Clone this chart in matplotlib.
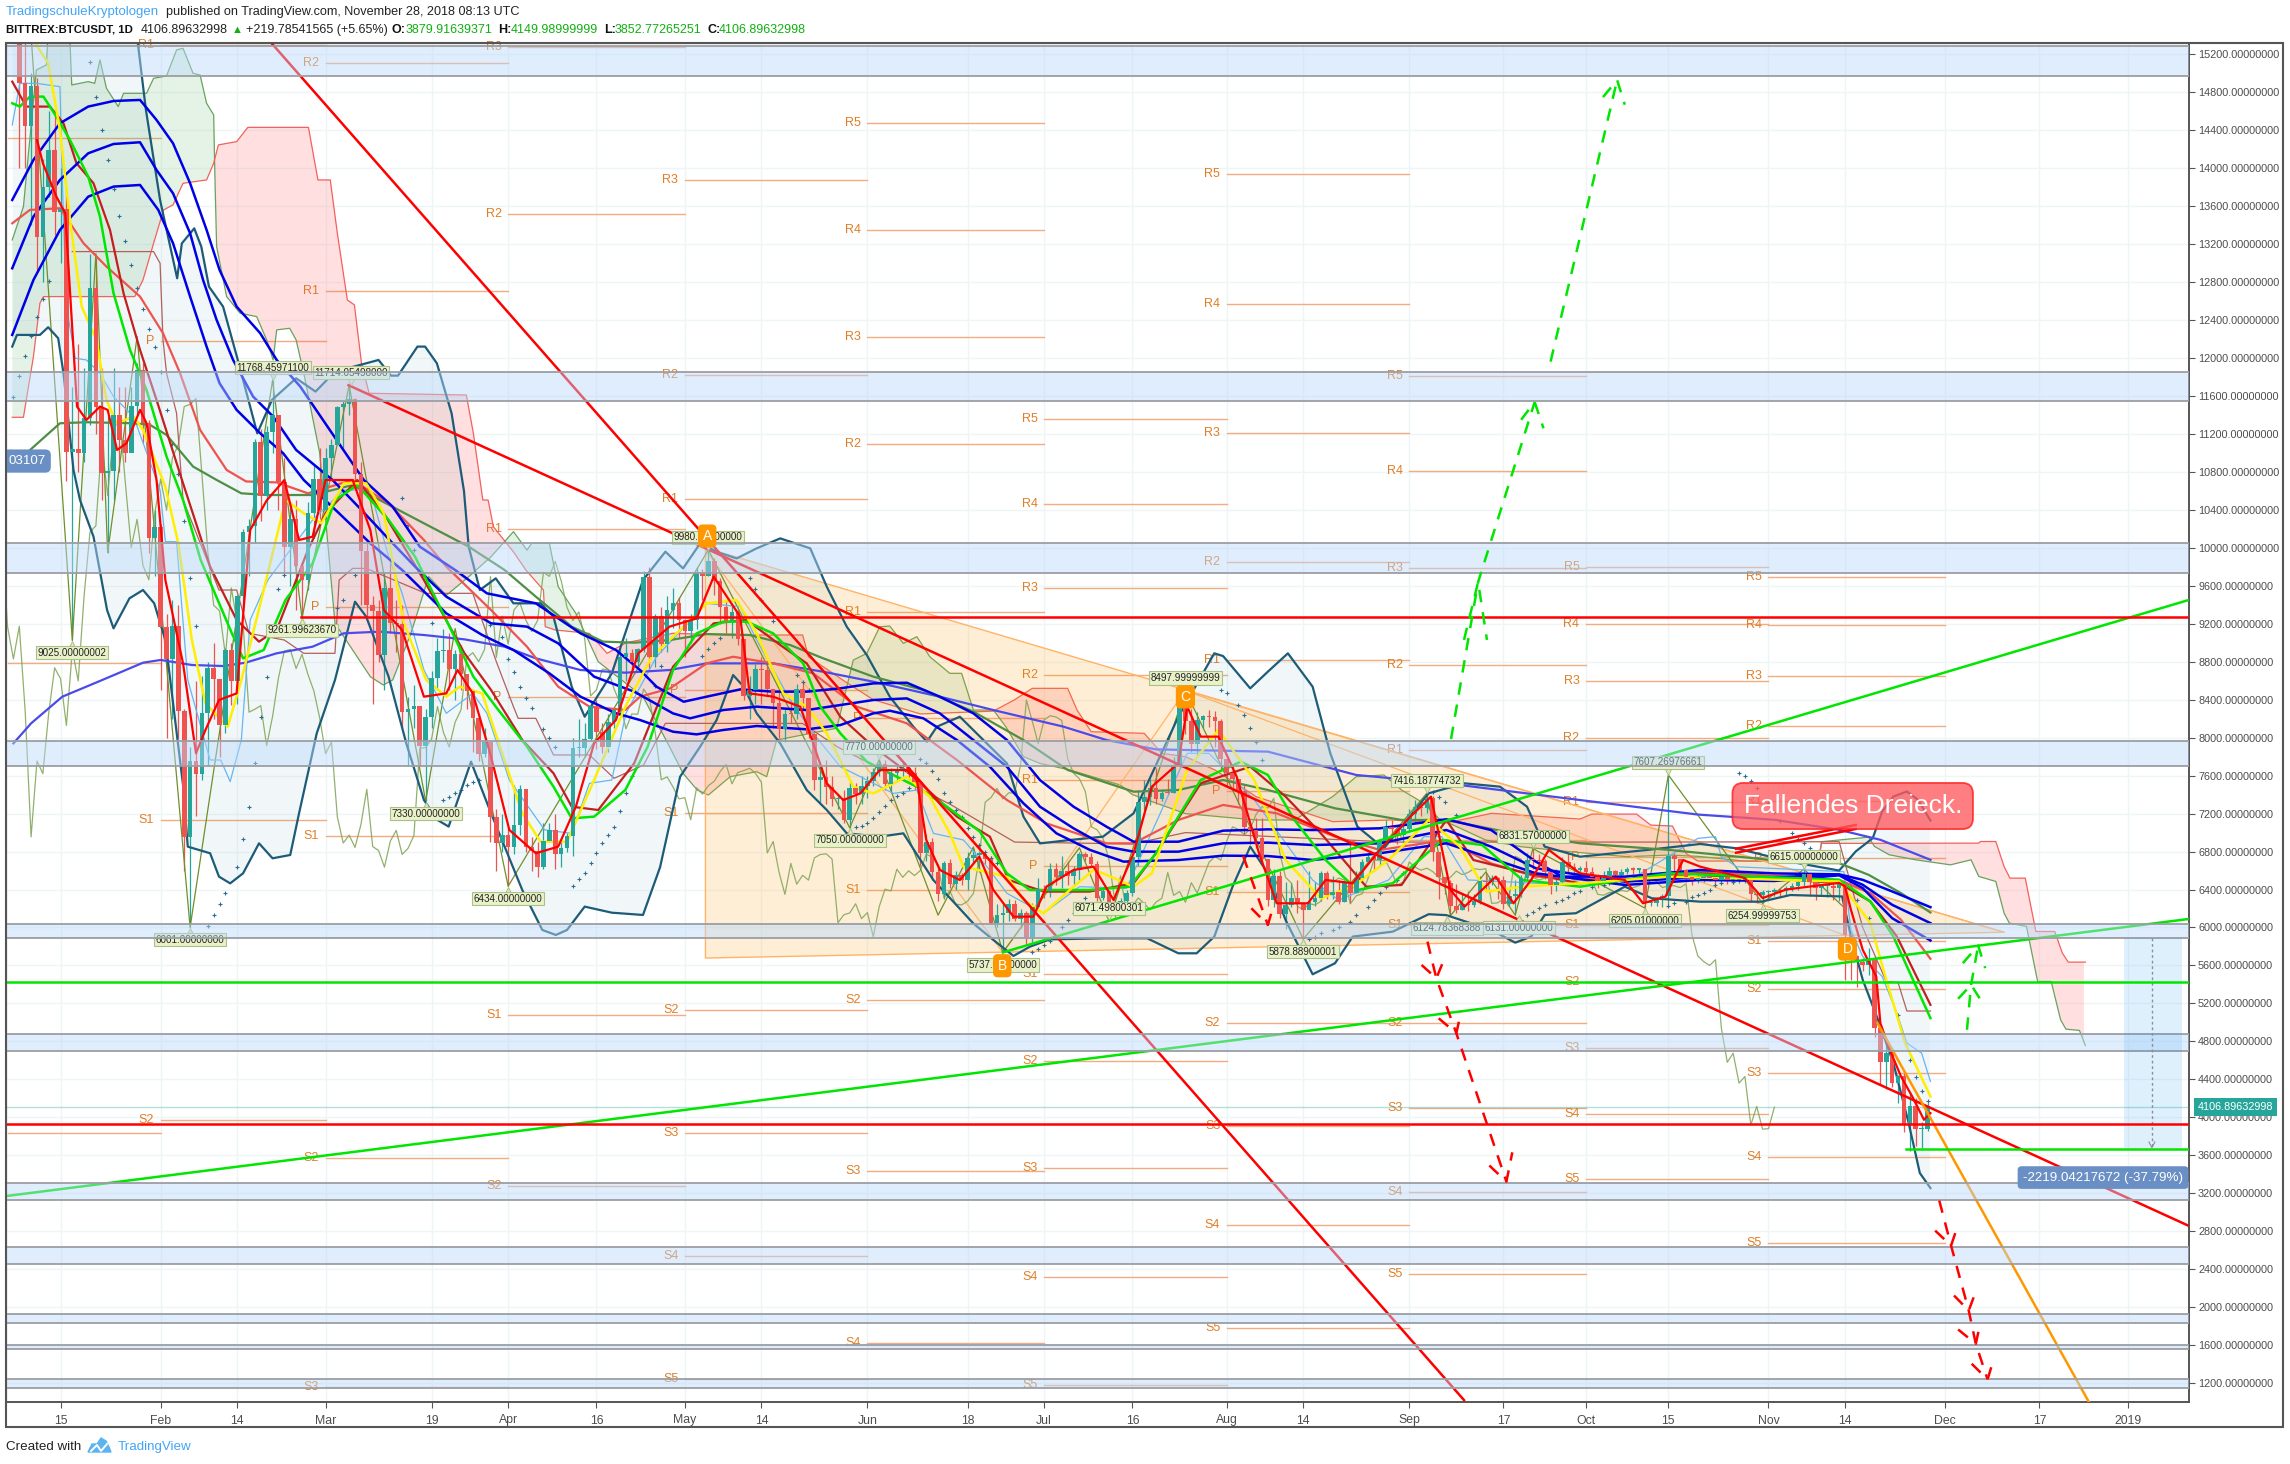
import matplotlib
matplotlib.use("Agg")
import matplotlib.pyplot as plt
from matplotlib.patches import Rectangle, Polygon
import numpy as np

plt.rcParams['font.family'] = ['Liberation Sans', 'DejaVu Sans']

# x values are days counted from 1 Jan 2018, y values are USDT
first_day = 7
first_open = 16150
close_jan = [14895,14446,14867,13280,13807,14193,13543,13568,11015,11040,11000,11366,12735,11489,10786,10810,11400,11138,11000,11500,11875,11313,10106,10221]
close_feb = [9170,8830,9174,8277,6955,7754,7621,8265,8736,8621,8129,8926,8598,9494,10166,10233,11112,10551,11225,11403,10690,10005,10301,9813,9664,10366,10725,10397]
close_mar = [10951,11086,11489,11512,11573,10779,9965,9395,9337,8866,9578,9205,9194,8269,8300,8338,7916,8223,8630,8913,8929,8728,8879,8668,8495,8209,7833,7954,7165,6890,6973]
close_apr = [6844,7083,7456,6853,6811,6636,6911,7023,6770,6834,6968,7889,7895,7986,8329,8058,7902,8163,8294,8845,8895,8802,8930,9697,8845,9281,8987,9348,9419,9240]
close_may = [9119,9235,9743,9700,9858,9654,9373,9234,9325,9043,8441,8504,8723,8716,8510,8368,8094,8250,8247,8513,8418,8041,7557,7587,7480,7355,7368,7135,7472,7406,7494]
close_jun = [7541,7643,7720,7514,7633,7653,7678,7624,7531,6786,6906,6582,6349,6675,6456,6550,6499,6734,6769,6776,6721,6050,6134,6153,6250,6093,6157,5903,6218,6404]
close_jul = [6385,6614,6529,6597,6547,6601,6773,6741,6664,6310,6386,6245,6238,6276,6359,6742,7321,7370,7466,7355,7419,7418,7712,8397,8173,7937,8186,8231,8219,8181,7780]
close_aug = [7625,7567,7434,7062,7029,6938,6720,6285,6543,6144,6232,6311,6253,6186,6267,6308,6579,6339,6379,6266,6472,6363,6526,6686,6748,6710,6909,7060,7033,6978,7037]
close_sep = [7193,7272,7260,7361,6792,6529,6467,6225,6186,6250,6238,6276,6485,6477,6520,6501,6249,6335,6354,6517,6710,6708,6702,6582,6447,6480,6690,6635,6604,6625]
close_oct = [6589,6528,6486,6530,6594,6557,6580,6620,6610,6620,6254,6260,6300,6330,6750,6720,6608,6530,6500,6520,6530,6525,6500,6530,6500,6500,6500,6500,6350,6340,6370]
close_nov = [6370,6390,6380,6420,6440,6480,6560,6480,6420,6440,6440,6420,6460,5923,5700,5640,5600,5660,4940,4580,4675,4360,4430,3920,4115,3875,3880,4107]

high_jan = [16300,15400,15000,14950,14100,14600,14600,14000,13800,11700,12150,11900,13100,13050,11900,11400,11900,11700,11700,11700,11950,11950,11350,10400]
high_feb = [10250,9300,9450,9400,8300,7900,8600,8650,8800,9000,8600,8950,9000,9500,10200,10300,11150,11250,11280,11768,11300,10950,10450,10500,9840,10480,10870,11050]
high_mar = [11050,11150,11500,11550,11714,11580,10900,10050,9490,9450,9740,9880,9450,9400,8430,8550,8330,8300,8700,9050,9150,9100,8920,8980,8650,8500,8250,8100,7950,7250,7200]
high_apr = [7050,7500,7500,7420,6950,6900,7100,7100,7200,6900,7000,8000,8200,8150,8380,8400,8150,8250,8300,8950,9050,8930,8950,9760,9800,9300,9380,9490,9580,9480]
high_may = [9250,9300,9800,9780,9980,9890,9680,9450,9390,9360,9000,8650,8780,8850,8820,8500,8480,8300,8400,8570,8600,8400,8050,7700,7770,7600,7400,7450,7550,7520,7600]
high_jun = [7600,7680,7770,7760,7680,7700,7750,7700,7690,7540,6980,6940,6630,6700,6720,6590,6570,6800,6840,6800,6800,6750,6250,6250,6300,6290,6200,6170,6260,6520]
high_jul = [6450,6680,6680,6750,6700,6650,6800,6800,6780,6700,6420,6400,6320,6310,6400,6750,7450,7550,7560,7680,7450,7560,7800,8497,8480,8300,8270,8240,8290,8280,8200]
high_aug = [7770,7700,7560,7500,7080,7150,7150,6700,6620,6600,6480,6470,6500,6250,6600,6480,6600,6590,6540,6500,6500,6880,6600,6720,6780,6790,6930,7130,7130,7080,7080]
high_sep = [7250,7340,7340,7416,7390,6700,6500,6500,6460,6350,6380,6350,6540,6570,6550,6530,6540,6400,6500,6550,6780,6831,6770,6720,6530,6620,6740,6780,6680,6650]
high_oct = [6700,6640,6560,6600,6640,6610,6620,6640,6640,6620,6620,6270,6320,6350,7607,6780,6720,6620,6540,6560,6570,6560,6540,6560,6540,6530,6510,6520,6510,6370,6390]
high_nov = [6400,6420,6420,6440,6470,6490,6615,6560,6490,6460,6460,6470,6480,6467,5920,5700,5680,5780,5700,4950,4780,4700,4450,4500,4250,4200,3950,4150]

low_jan = [14000,14000,13400,12900,12800,13700,13300,13000,10700,9025,10800,10900,11300,11200,10500,9950,10500,10800,10900,11050,11400,11100,9950,9700]
low_feb = [8500,8000,8200,8000,6600,6001,7180,7550,7700,8200,7800,8050,8340,8350,9350,9700,10050,10280,10400,11000,10400,9720,9600,9350,9262,9560,10100,10300]
low_mar = [10300,10750,11100,11050,11400,10650,9400,9250,8350,8800,8500,9100,8900,8100,7700,8100,7700,7330,8100,8500,8800,8500,8400,8500,8300,7850,7750,7800,6900,6600,6800]
low_apr = [6434,6770,6970,6800,6600,6530,6620,6900,6620,6640,6800,6750,7800,7800,7980,7880,7840,7850,8100,8250,8600,8720,8760,8900,8700,8750,8900,8900,9160,9050]
low_may = [8850,9000,9150,9450,9700,9500,9200,9100,9050,8980,8400,8200,8350,8350,8450,8100,8000,7950,8150,8200,8300,8000,7450,7300,7300,7280,7250,7100,7050,7300,7300]
low_jun = [7360,7490,7600,7450,7420,7530,7600,7550,7450,6650,6700,6500,6280,6300,6420,6400,6450,6400,6670,6580,6670,6040,6000,5737,6070,6070,5990,5820,5850,6210]
low_jul = [6310,6320,6450,6420,6450,6450,6500,6700,6640,6280,6290,6071,6110,6220,6240,6330,6650,7240,7290,7300,7330,7400,7420,7690,8040,7850,7800,8100,8110,7900,7650]
low_aug = [7500,7450,7300,6980,6880,6840,6670,6230,6220,6100,5980,6220,6150,5878,6200,6230,6280,6300,6300,6250,6270,6260,6360,6480,6680,6600,6650,6880,6950,6880,6900]
low_sep = [7020,7100,7170,7210,6700,6300,6350,6124,6150,6180,6170,6220,6250,6380,6450,6300,6200,6230,6131,6320,6500,6620,6650,6510,6350,6380,6450,6570,6500,6530]
low_oct = [6540,6480,6420,6460,6520,6520,6530,6560,6560,6500,6205,6225,6230,6220,6220,6550,6560,6480,6450,6470,6480,6490,6450,6480,6460,6460,6470,6470,6270,6260,6254]
low_nov = [6300,6330,6320,6340,6380,6400,6440,6330,6290,6330,6320,6290,6280,5449,5450,5370,5540,5500,4850,4340,4300,4320,4150,3850,3640,3700,3680,3853]

blue_top = [(5.8,13666),(9.4,14088),(13.9,14474),(18.7,14650),(23,14709),(27.5,14720),(30.3,14509),(33.1,14263),(36,13842),(38.8,13350),(41,12929),(43.9,12542),(47.9,12262),(50.7,11980),(54.7,11700),(65.5,10715),(70.4,10434),(75,10013),(81,9767),(86.4,9521),(94.7,9416),(102.3,9099),(108.3,8924),(112.4,8713),(115.2,8537),(119.8,8379),(123.7,8432),(129.4,8509),(135,8485),(140.7,8485),(146.4,8520),(152,8572),(157.7,8579),(163.3,8432),(169,8256),(174.7,7975),(180.3,7554),(186,7273),(191.6,7062),(196.2,6904),(203.8,6904),(211.4,7020),(219,7034),(226.6,7027),(238,7045),(249.3,7140),(256.9,7027),(264.5,6694),(269,6536),(279.6,6536),(292.4,6606),(305,6570),(316,6560),(320,6502),(325,6380),(331.5,6214)]
blue_mid = [(5.8,12946),(9.4,13491),(13.9,13877),(18.7,14158),(23,14256),(27.5,14274),(30.3,13982),(33.1,13736),(36,13315),(38.2,12823),(40.5,12402),(43.3,11980),(46.7,11594),(50.1,11384),(54,11032),(60.2,10715),(65.1,10399),(70.4,10048),(74.2,9802),(79.5,9486),(87.1,9205),(93.2,9170),(98.5,8994),(104.6,8643),(111.4,8485),(118,8256),(120.9,8204),(126.5,8291),(132.2,8327),(140.7,8291),(146.4,8344),(152,8397),(157.7,8414),(163.3,8256),(169,7975),(174.7,7694),(180.3,7273),(186,7045),(191.6,6852),(196.2,6799),(203.8,6799),(211.4,6887),(219,6894),(226.6,6869),(238,6887),(249.3,7027),(256.9,6852),(264.5,6624),(279.6,6483),(292.4,6530),(305,6530),(316,6555),(320,6450),(325,6239),(331.5,6046)]
blue_low = [(5.8,12244),(9.4,12823),(13.9,13350),(18.7,13701),(23,13807),(27.5,13824),(30.6,13561),(33.1,13210),(36,12648),(38.8,12121),(41,11735),(43.9,11454),(47.9,11208),(51.8,10997),(55.3,10715),(61.3,10364),(66.6,10048),(72,9767),(79.5,9310),(85.6,9082),(90.9,8924),(97,8678),(102.3,8432),(108.3,8257),(112.4,8186),(118,8063),(122,8035),(126.5,8081),(132.2,8123),(140.7,8088),(146.4,8133),(152,8256),(154.8,8284),(160.5,8204),(166.2,7975),(171.8,7694),(177.5,7308),(183.1,6992),(188.8,6817),(194.5,6694),(203.8,6711),(211.4,6757),(219,6753),(226.6,6711),(238,6782),(249.3,6887),(256.9,6729),(264.5,6571),(279.6,6448),(292.4,6501),(305,6490),(316,6550),(320,6415),(325,6098),(331.5,5863)]
violet_ma = [(6,7940),(9,8151),(14.3,8432),(20.4,8590),(28,8790),(31,8819),(36.3,8766),(41.6,8755),(45.4,8790),(50.7,8889),(56.8,8959),(62.1,9100),(68.2,9117),(75.7,9082),(82.6,9036),(89.4,8959),(94.7,8836),(102.3,8713),(109.9,8685),(117.4,8713),(123.7,8783),(135,8783),(143.5,8695),(152,8590),(163.3,8432),(172.4,8291),(184.3,8116),(191.6,7975),(200,7877),(219,7853),(234,7607),(249.3,7519),(272,7343),(292,7190),(305,7135),(316,7029),(323,6924),(331.5,6713)]
olive_ma = [(8.2,10997),(13.9,11313),(18.4,11324),(26.4,11313),(29.2,11296),(32,11190),(36.5,10857),(40.5,10716),(44.7,10575),(49.2,10557),(56.8,10557),(63.6,10662),(68.2,10504),(75.7,10259),(83.3,10013),(89.4,9767),(94.7,9486),(100.8,9170),(106.1,9012),(111.4,9001),(117.5,9029),(123.7,9092),(131,9082),(137.9,8976),(143.5,8836),(152,8643),(160.5,8502),(169,8274),(177.5,7975),(185,7660),(196.2,7431),(203.8,7449),(211.4,7554),(219,7449),(230.4,7256),(241.7,7133),(249.3,7133),(260.7,6992),(272,6887),(287.2,6817),(310,6678),(316,6678),(321,6555),(326.5,6362),(331.5,6158)]
salmon_ma = [(5.8,13420),(8.8,13561),(13.9,13579),(17.9,13210),(21.8,12964),(27.5,12648),(31.4,12262),(34.3,11840),(37.7,11243),(42.2,10821),(45.5,10700),(50.7,10690),(56,10575),(63.6,10715),(69.7,10469),(75.7,10083),(79.5,9802),(87.1,9345),(93.2,8959),(98.5,8537),(103.8,8327),(109.9,8292),(112.4,8432),(117.5,8520),(123.7,8783),(128.2,8853),(135,8783),(141.8,8678),(149.2,8327),(157.7,8151),(166.2,7765),(174.7,7343),(181.4,7097),(191.6,6887),(196.2,6887),(203.8,7133),(211.4,7291),(220.5,7203),(230.4,6957),(238,6817),(249.3,6922),(256.9,6676),(264.5,6536),(279.6,6501),(292.4,6590),(316,6502),(321.3,6362),(326.5,6081),(331.5,5670)]
darkred_ma = [(5.8,14913),(8.2,14650),(12.2,14650),(14.5,14474),(16.7,14053),(19.6,13842),(22.4,13350),(24.7,12683),(27.5,12086),(30.3,11559),(34.8,10681),(39.4,9802),(43.9,9240),(47.7,9012),(50.7,9135),(56,9977),(59,10364),(64.4,10715),(68.9,10364),(75.7,9661),(82.6,8889),(87.1,8503),(92.4,7976),(97.7,7625),(100.8,7273),(105.3,7238),(111.4,7730),(118,8748),(124.9,9205),(130.5,9240),(136.2,8976),(140.7,8783),(146.4,8221),(152,7905),(158.8,7589),(166.2,7168),(171.8,6957),(175,6500),(181,6378),(188.7,6378),(196.2,6466),(200,6782),(207.6,7519),(216,7695),(222,7379),(228,6992),(235.7,6430),(241.7,6448),(249.3,7133),(253.9,6711),(263,6571),(272,6466),(292.4,6571),(316,6467),(321.3,6274),(325.8,5905),(331.5,5185)]
green_ma = [(5.8,14685),(7.1,14650),(8.8,14755),(11.1,14755),(13.3,14544),(15.6,14298),(18.7,13912),(20.7,13491),(23,12683),(25.8,12086),(28.6,11664),(32,10962),(34.8,10505),(37.8,9872),(43.1,9099),(45,8836),(48.5,8924),(52.2,9451),(56.8,9837),(60.6,10504),(64.4,10662),(69.7,10294),(74.2,9907),(79.5,9240),(84.1,8643),(87.9,8327),(93.2,7906),(97.7,7484),(100.8,7150),(104.6,7168),(109.9,7449),(113.7,7906),(118,8713),(122,9099),(126.5,9222),(130.5,9222),(135,9099),(140.1,8783),(143,8327),(146.4,8046),(150.9,7747),(155.4,7607),(159.4,7484),(164.5,7273),(170.1,7010),(174.7,6570),(178.6,6395),(188.7,6395),(195.5,6430),(200,6782),(207.6,7554),(214.4,7747),(219,7607),(223.5,7133),(228.8,6711),(234.2,6395),(240.2,6466),(248.6,6922),(255.4,6869),(262.2,6501),(272,6430),(287.2,6571),(316,6502),(321.3,6274),(325.2,5905),(331.5,5045)]
yellow_ma = [(9.9,15299),(11.9,15106),(13.9,14404),(15.6,13456),(17.6,12542),(20.1,12191),(21.8,11559),(23.5,11313),(26.4,11383),(28,11243),(30.9,10786),(31.8,10645),(34,10048),(36.3,9029),(38.6,8362),(42.4,8116),(44.7,8608),(48.5,9556),(52.2,10504),(55.3,10364),(58.3,10259),(62.1,10680),(65.9,10680),(68.9,10364),(72.3,9205),(76.1,8608),(79.5,8432),(81.8,8538),(85.6,8467),(88.6,7906),(92.4,7203),(95.5,6904),(100,6904),(104.6,7554),(109.9,8327),(114.4,8854),(119.2,9134),(123.7,9415),(128.8,9450),(132.2,9099),(136.7,8467),(140.7,8327),(144.1,8046),(148.6,7484),(152,7413),(157.7,7589),(161.6,7378),(165,6992),(167.3,6641),(174.7,6535),(177.5,6290),(180.9,6149),(186,6430),(189.4,6606),(191,6571),(196.2,6430),(199.3,6571),(205.3,7660),(210.6,8081),(216.7,7554),(222,6711),(228,6307),(233.4,6430),(239.5,6711),(246.3,7133),(251.6,6852),(256.1,6378),(262.2,6430),(272,6466),(287.2,6536),(316,6485),(321.3,6046),(324,5449),(327.2,4782),(331.5,4220)]
fast_red = [(10,14298),(11,14053),(13.3,13701),(14.8,13526),(16.8,11489),(18.4,11348),(20.7,11489),(22,11454),(23.6,11032),(25.2,11102),(27.5,11454),(28.6,11313),(30.3,10715),(31.8,9661),(34.8,8783),(37,7835),(38.6,8081),(40.9,8397),(43.9,8467),(46.2,10188),(49,10500),(52,10715),(54.5,10083),(56.8,10118),(59,10715),(63.6,10715),(66.6,10188),(68.9,9345),(72,9135),(75.7,8432),(79.5,8467),(81.4,8713),(84,8467),(87.1,7800),(90.2,7028),(94.7,6782),(98.5,6852),(101.5,7273),(104.6,7941),(108.3,8186),(112.1,8889),(117.4,9170),(122,9257),(124.9,9696),(129.4,9275),(131,8467),(135,8432),(139.6,8327),(141.8,7940),(144.1,7519),(146.9,7343),(149.8,7413),(153.1,7659),(157.7,7659),(159.4,7554),(161,6922),(163.3,6606),(166.7,6500),(170,6746),(172.4,6395),(175.8,6114),(179.2,6114),(181.4,6430),(186,6606),(189.4,6641),(192.8,6290),(196.2,6782),(199.3,7484),(203.8,7730),(205.3,8327),(207.6,8011),(210.6,8011),(213.7,7589),(217.5,6782),(220.5,6255),(225.8,6255),(228.8,6501),(233.4,6466),(238,6817),(243.2,7168),(246.7,7379),(250,6395),(252.4,6220),(257.7,6536),(260.7,6255),(263.7,6501),(266.7,6817),(272,6571),(279.6,6501),(282.7,6255),(286.5,6325),(289.5,6711),(292.4,6641),(300,6520),(303,6310),(307,6400),(316,6470),(317,6432),(318,6186),(320,5765),(322.3,5484),(323,4992),(324.6,4711),(326.5,4430),(328.4,4220),(330.4,3974),(331.5,4044)]
light_blue = [(5.8,14456),(7.1,14895),(9.9,14895),(13.9,14860),(14.2,14123),(14.5,13456),(15,12542),(16.5,11998),(18.4,11980),(20.7,11840),(23,11594),(26.4,11383),(30.9,10610),(31.8,10065),(33.7,10065),(35.6,8608),(39.4,7765),(41.2,7765),(42.8,7537),(44.7,7976),(46.2,9240),(49.2,9661),(56.8,10294),(62.1,10610),(66.6,10610),(69.7,9907),(72,9521),(75.7,8713),(79.5,8257),(84,8467),(86.4,8257),(90.2,7554),(96.2,7028),(100.8,6992),(103.8,7519),(107.6,7554),(110,8257),(115.2,8854),(123.7,9415),(129.4,9380),(132.2,9029),(137.9,8397),(141.8,8046),(146.4,7694),(149.8,7589),(155.4,7413),(159.4,7448),(162.2,6992),(167.3,6922),(171.3,6641),(174.7,6360),(180.9,6149),(187,6430),(195,6413),(205.3,7835),(209,7835),(216.7,7344),(226.6,6500),(231,6290),(239.5,6501),(245.5,6957),(248.5,6957),(253,6501),(264.5,6466),(279.6,6466),(292,6939),(295,6957),(296,6746),(298.6,6640),(316.8,6588),(318,5975),(320,5695),(323.3,5484),(325.8,5098),(327.5,4782),(330,4676),(331.5,4378)]
kijun = [(16,13122),(29.8,13122),(30.9,12999),(31.4,12191),(32,11840),(33.7,11419),(34.8,10505),(40.9,9556),(43.9,9556),(46,9100),(52,9029),(55.3,8889),(60.6,8889),(61.3,9661),(63.6,9784),(65.9,9784),(76,9521),(84,9521),(88,8800),(90.9,8327),(91.7,8204),(94.7,8204),(97.7,7818),(103.8,7818),(108,7572),(113,7712),(116.7,8151),(122.6,8151),(140,8150),(146,7900),(165,7300),(176,6900),(196,6880),(205,7000),(240,6900),(285,6900),(316,6904),(320,6000),(324,5430),(326,5420),(327.5,5120),(331.5,5120)]

span_a = [(5.8,13245),(7.7,13596),(9.9,15036),(11.6,15089),(12.2,15800),(15.3,15800),(15.9,14878),(18.7,14913),(19.8,14895),(20.7,15141),(21.8,14843),(23.8,14650),(24.7,14790),(28.6,14790),(29.8,14948),(32,14973),(33.7,15247),(34.8,15264),(36.5,15001),(37.7,14983),(38.8,14685),(40,14562),(40.2,13947),(40.5,13175),(42.2,12648),(44.5,12472),(47.3,12437),(49,12191),(50.1,11980),(50.7,12297),(52.9,12314),(54,12191),(55.3,11840),(58,11000),(60.6,9205),(66.6,8643),(68.8,8555),(70.4,8608),(73.5,9100),(76.5,9697),(79.5,9500),(83.3,9696),(87.1,9907),(90.9,10171),(93.2,9977),(94,10048),(97,10048),(98.5,9591),(101.5,9310),(105.3,8800),(112.9,8432),(117.4,7905),(119.7,7624),(122.1,7449),(124,7396),(127.7,7589),(132.2,7642),(133.9,7589),(135.6,7975),(145.8,8100),(148.6,8818),(150.9,8888),(153.1,9169),(154.8,9176),(157.1,8994),(159.4,9064),(161.6,8853),(165,8678),(167,8678),(169,8291),(172.4,8291),(174.5,8116),(177.5,7800),(180.3,7729),(185.4,7659),(194,7500),(196,7400),(205,7200),(217,7133),(223.5,7133),(230,7379),(234,7589),(238.7,7607),(241.7,7449),(245.5,7308),(248,7150),(256,6921),(262,6851),(270,6800),(280,6746),(287,6763),(292,6750),(300,6700),(312.5,6700),(313,6904),(321,6952),(322,6854),(324.5,6766),(329,6713),(334.9,6660),(338.4,6713),(339.7,6538),(342.6,6485),(344,6151),(344.9,6046),(347.8,6011),(349.7,5431),(352,5431),(353.6,5027),(354.5,4929),(356.8,4915),(357.8,4757)]
span_b = [(5.8,11376),(7.7,11376),(9.4,12016),(10.5,12578),(11.1,12648),(26.6,12648),(28,12823),(29.8,13210),(31.5,13561),(33.1,13614),(34.8,13842),(38.8,13877),(40,14053),(40.8,14246),(43.9,14281),(45.8,14431),(56.1,14431),(57.7,13877),(59.8,13877),(61,13315),(62.7,12612),(63.9,12560),(65.1,11945),(66.4,11629),(82.9,11611),(84.1,11207),(85.7,10505),(86.6,10504),(87.5,10223),(91,9950),(93,9767),(96,9556),(96.3,9170),(98,9135),(103.8,9099),(106.8,8889),(110,9000),(118,9100),(127,9082),(140,9082),(141,8853),(147,8600),(152,8400),(160,8250),(172.4,8280),(176,8400),(179,8520),(185,8520),(186.6,8291),(189,8063),(198,8046),(201,7835),(205,7800),(210,7660),(217,7379),(230,7115),(240,7133),(249,7098),(257,7203),(272,7143),(274,7195),(281.6,7195),(284,7079),(287.7,7069),(290,6781),(292,6700),(312.5,6700),(313,6886),(339.7,6889),(340,6906),(342.6,6906),(344,6643),(345,6520),(347.6,6520),(349.4,5958),(352.6,5958),(353.9,5730),(354.9,5635),(357.8,5635)]

bb_upper = [(5.8,16500),(25.8,16000),(28.5,14614),(30.9,13666),(33.8,12841),(34.6,13209),(36.7,13367),(37.9,13174),(39.2,12753),(41.6,12542),(44.1,11980),(47.4,11207),(49.9,11559),(54,11787),(57.3,11647),(60.6,11857),(68,11980),(70.1,11815),(71.3,11815),(74.6,12121),(75.9,12121),(77.9,11945),(80.4,11418),(82.5,10600),(83.3,10013),(85.2,9556),(87.9,9679),(90.9,9416),(95.5,9416),(97.7,9275),(100.8,8537),(103,8221),(107.6,8678),(112.9,9661),(116.7,9960),(119.7,9784),(122.6,10047),(125.8,9950),(128.8,9889),(132.2,9995),(136.2,10100),(141.3,9995),(144.1,9591),(147.5,9169),(150.9,8871),(154.8,8432),(158.8,8116),(161.1,7958),(162.8,8116),(166.7,8221),(174.7,7729),(177.5,7168),(180.3,6886),(185.4,6922),(191,6957),(196.2,7203),(203.8,8221),(209.9,8889),(211.4,8860),(216,8520),(219,8696),(222.4,8889),(226.6,8537),(229.6,7835),(234.2,7063),(238.7,6834),(246.3,7414),(252.4,7519),(258.4,7484),(263,7273),(266,6852),(272,6746),(283.4,6817),(292.4,6880),(298.6,6834),(307.7,6693),(316,6600),(318.8,6801),(321.7,6941),(323.3,7222),(325.2,7380),(327.5,7433),(329.4,7345),(331.5,7127)]
bb_lower = [(5.8,12121),(6.6,12244),(10.5,12244),(11.9,12325),(13.6,12209),(14.5,11840),(16.2,10821),(17.3,10505),(19.6,10118),(21.9,9345),(23,9152),(25.7,9468),(28,9556),(29.9,9416),(31.8,9029),(34.8,7500),(35.6,6852),(39.4,6782),(40.9,6536),(42.8,6465),(45,6571),(47.7,6887),(50,6729),(53,6764),(54.5,7203),(57.5,8046),(60.6,8608),(64,9433),(65.9,9275),(69.7,8643),(72.7,7941),(75.7,7343),(78,7133),(79.9,7063),(83.7,7747),(87.1,7203),(92.4,6395),(95.8,5974),(98.1,5921),(100,5974),(103,6220),(107.6,6156),(112.9,6132),(115.8,6636),(119.2,7589),(122.6,7905),(125.4,8186),(128.2,8660),(130,8537),(132.2,8256),(136.2,7940),(140.7,7448),(144.1,7238),(147.5,6992),(153.1,6957),(157.1,6992),(162.2,6500),(169,6042),(172.4,5868),(175.8,5700),(178.6,5798),(182,5875),(191.6,5886),(198.5,5886),(203.8,5728),(206.9,5728),(209.9,5904),(213,6430),(216,6852),(219,6571),(222,6079),(226.6,5507),(230.4,5623),(233.4,5904),(240.2,5956),(246.3,6140),(249.3,6130),(256.9,5974),(261,5840),(263.7,5904),(266,6132),(271.3,6150),(279.6,6430),(284.2,6308),(292.4,6272),(302.8,6272),(307.7,6342),(316.5,6327),(318,5905),(320,5449),(322.6,5027),(325.2,4571),(327.8,3939),(329.7,3412),(331.5,3254)]

sar_dots = [(6,11587),(7,11808),(8,12019),(9,12230),(10,12430),(11,12619),(12,12809),(19,15117),(20,14748),(21,14400),(22,14084),(23,13779),(24,13494),(25,13231),(26,12978),(27,12736),(28,12514),(29,12304),(30,12114),(31,11851),(32,11450),(33,11092),(34,10776),(35,10283),(36,9679),(37,9177),(39,6016),(40,6132),(41,6248),(42,6360),(44,6641),(45,6929),(46,7266),(47,7730),(48,8214),(49,8643),(51,9563),(52,9714),(61,9363),(62,9451),(64,9714),(72,10522),(73,10241),(74,9977),(77,9205),(79,7343),(80,7379),(81,7414),(82,7449),(83,7501),(84,7537),(85,7554),(87,9187),(89,9057),(90,8826),(91,8696),(92,8538),(93,8415),(94,8309),(96,8088),(97,7993),(98,7905),(101,6441),(102,6511),(103,6571),(104,6683),(105,6788),(106,6887),(107,6975),(108,7063),(109,7231),(110,7414),(111,7596),(115,8548),(116,8755),(123,8864),(124,8934),(125,9001),(126,9047),(131,9679),(132,9563),(133,9450),(135,9233),(139,8660),(140,8590),(141,8502),(149,7062),(150,7069),(151,7104),(152,7150),(153,7220),(154,7280),(155,7343),(156,7385),(157,7420),(158,7466),(160,7772),(161,7730),(162,7652),(163,7561),(164,7413),(165,7326),(166,7238),(167,7168),(168,7045),(169,6950),(170,6869),(171,6799),(172,6729),(173,6676),(179,5745),(180,5770),(181,5815),(182,5861),(184,6008),(185,6079),(186,6149),(187,6237),(188,6307),(211,8502),(212,8467),(214,8344),(215,8239),(216,8098),(217,7958),(218,7765),(226,5879),(227,5904),(228,5939),(230,5974),(231,6009),(233,6062),(234,6132),(236,6220),(237,6290),(238,6360),(239,6430),(241,6501),(242,6571),(247,7431),(248,7379),(249,7326),(251,7185),(263,6131),(264,6166),(265,6201),(266,6237),(268,6265),(269,6289),(270,6324),(271,6359),(272,6388),(274,6430),(276,6447),(277,6465),(278,6482),(279,6500),(281,6507),(287,6226),(288,6254),(290,6272),(291,6324),(292,6342),(293,6359),(294,6395),(295,6447),(296,6465),(298,6482),(299,7624),(300,7596),(301,7547),(302,7466),(304,7308),(305,7220),(306,7122),(308,6992),(309,6932),(310,6886),(311,6834),(312,6799),(319,6292),(321,6099),(326,5080),(328,4606),(329,4420),(330,4272),(331,4167)]

zigzag = [(9,15400),(16,9025),(20,13100),(22,9950),(27,12226),(36,6001),(50,11768),(55,9262),(63,11714),(76,7330),(81,9150),(90,6434),(124,9980),(148,7050),(153,7770),(163,6130),(169,6848),(174,5737),(187,6840),(192,6071),(205,8497),(225,5878),(246,7416),(250,6124),(256,6584),(261,6131),(264,6831),(283,6205),(287,7607),(303,6254),(310,6615),(317,6200)]

# day, price, label, +1 flag above / -1 flag below
flags = [(16,9025,"9025.00000002",-1),(36,6001,"6001.00000000",-1),(50,11768,"11768.45971100",1),(55,9262,"9261.99623670",-1),(63.3,11714,"11714.05498000",1),(76,7330,"7330.00000000",-1),(90,6434,"6434.00000000",-1),(124,9980,"9980.00000000",1),(148,7050,"7050.00000000",-1),(153,7770,"7770.00000000",1),(174,5737,"5737.00000000",-1),(192,6071,"6071.49800301",1),(205,8497,"8497.99999999",1),(225,5878,"5878.88900001",-1),(246,7416,"7416.18774732",1),(249.4,6124,"6124.78368388",-1),(261.6,6131,"6131.00000000",-1),(264,6831,"6831.57000000",1),(283,6205,"6205.01000000",-1),(287,7607,"7607.26976661",1),(303,6254,"6254.99999753",-1),(310,6615,"6615.00000000",1)]
pattern_letters = [("A",123.8,10125),("B",173.9,5597),("C",205,8430),("D",317.4,5773)]

bands = [(14969,15292),(11544,11857),(9731,10047),(7701,7965),(5886,6037),(4698,4880),(3130,3309),(2452,2635),(1835,1930),(1555,1600),(1145,1238)]

month_start = [5,31,59,90,120,151,181,212,243,273,304,334]
piv_jan = [("",14324),("",8785),("",3832)]
piv_feb = [("R1",15300),("P",12179),("S1",7134),("S2",3970)]
piv_mar = [("R2",15111),("R1",12704),("P",9377),("S1",6964),("S2",3570),("S3",1162)]
piv_apr = [("R3",15280),("R2",13522),("R1",10204),("P",8430),("S1",5082),("S2",3276)]
piv_may = [("R3",13877),("R2",11824),("R1",10513),("P",8507),("S1",7211),("S2",5128),("S3",3832),("S4",2535),("S5",1239)]
piv_jun = [("R5",14478),("R4",13352),("R3",12226),("R2",11099),("R1",9325),("P",8206),("S1",6393),("S2",5236),("S3",3430),("S4",1625)]
piv_jul = [("R5",11362),("R4",10467),("R3",9572),("R2",8661),("R1",7550),("P",6648),("S1",5514),("S2",4588),("S3",3461),("S4",2319),("S5",1178)]
piv_aug = [("R5",13938),("R4",12565),("R3",11207),("R2",9849),("R1",8816),("P",7442),("S1",6378),("S2",4989),("S3",3909),("S4",2860),("S5",1780)]
piv_sep = [("R5",11809),("R4",10806),("R3",9788),("R2",8769),("R1",7874),("P",6918),("S1",6023),("S2",4989),("S3",4094),("S4",3215),("S5",2350)]
piv_oct = [("R5",9803),("R4",9201),("R3",8600),("R2",7998),("R1",7319),("P",6748),("S1",6023),("S2",5421),("S3",4727),("S4",4033),("S5",3353)]
piv_nov = [("R5",9695),("R4",9186),("R3",8646),("R2",8121),("R1",7334),("P",6733),("S1",5862),("S2",5347),("S3",4464),("S4",3585),("S5",2674)]
pivots = [piv_jan,piv_feb,piv_mar,piv_apr,piv_may,piv_jun,piv_jul,piv_aug,piv_sep,piv_oct,piv_nov]

y_ticks = list(range(1200,15201,400))
x_ticks = [14,31,44,59,77,90,105,120,133,151,168,181,196,212,225,243,259,273,287,304,317,334,350,365]
x_labels = ["15","Feb","14","Mar","19","Apr","16","May","14","Jun","18","Jul","16","Aug","14","Sep","17","Oct","15","Nov","14","Dec","17","2019"]

# trend lines: (day, price), (day, price)
red_lines = [((49.8,15320),(252.3,1020)),((62.9,11714),(375.4,2855)),((298.5,6788),(318.8,7038)),((298.5,6830),(318.8,7080))]
green_lines = [((4.74,3170),(375.4,6090)),((174,5737),(375.4,9452))]
orange_line = ((322.5,4993),(358.4,1000))
triangle = [(123.5,10000),(123.5,5678),(344,5950)]
pattern_thin = [(123.5,9980),(174,5737),(205,8497),(317,5917)]
upper_parallel = [(205,8497),(344,5950)]

green_arrow_shafts = [[(250.1,7986),(254.7,9640),(264.3,11537)],[(267,11963),(278.3,14930)],[(337.7,4922),(338.4,5396),(339.6,5810)]]
green_wings = [[(252.3,9030),(254.7,9640),(256.2,9030)],[(262,11350),(264.3,11537),(265.8,11260)],[(275.9,14750),(278.3,14930),(279.6,14670)],[(336.2,5249),(338.4,5396),(340.2,5220)],[(337,5624),(339.6,5810),(340.8,5572)]]
red_arrow_shafts = [[(214.8,6753),(219,6027)],[(246.1,5851),(247.6,5465),(251,4885),(259.5,3322)],[(333,3122),(335,2648),(338,1964),(339.2,1613),(341.2,1238)]]
red_wings = [[(216.2,6202),(219,6027),(219.9,6220)],[(245.1,5605),(247.6,5465),(249,5675)],[(248,5043),(251,4885),(251.8,5113)],[(256.6,3492),(259.5,3322),(260.5,3631)],[(332.3,2806),(335,2648),(336.2,2869)],[(335.5,2122),(338,1964),(339.3,2181)],[(336.2,1764),(339.2,1613),(340,1841)],[(338.5,1403),(341.2,1238),(342.3,1466)]]

closes = close_jan+close_feb+close_mar+close_apr+close_may+close_jun+close_jul+close_aug+close_sep+close_oct+close_nov
highs = high_jan+high_feb+high_mar+high_apr+high_may+high_jun+high_jul+high_aug+high_sep+high_oct+high_nov
lows = low_jan+low_feb+low_mar+low_apr+low_may+low_jun+low_jul+low_aug+low_sep+low_oct+low_nov
closes = np.array(closes, dtype=float)
opens = np.concatenate(([first_open], closes[:-1]))
days = first_day + np.arange(len(closes))

W, H = 2290, 1464
fig = plt.figure(figsize=(W/100, H/100), dpi=100)
ax = fig.add_axes([6/W, 1-1402/H, (2189-6)/W, (1402-43)/H])
ax.set_xlim(4.74, 375.4)
ax.set_ylim(1000, 15320)


def xy(points):
    arr = np.array(points, dtype=float)
    return arr[:, 0], arr[:, 1]


# pivots sit under the zones so they look washed out inside them
for i, month in enumerate(pivots):
    for name, price in month:
        ax.plot([month_start[i], month_start[i+1]], [price, price], color='#f1ad80', lw=1.0, zorder=1)
        if name:
            ax.text(month_start[i]-1.1, price, name, ha='right', va='center', color='#e07d25', fontsize=9, zorder=1)

# ichimoku cloud
grid = np.arange(5.8, 357.8, 0.25)
a_d, a_v = xy(span_a)
b_d, b_v = xy(span_b)
a_g = np.interp(grid, a_d, a_v)
b_g = np.interp(grid, b_d, b_v)
ax.fill_between(grid, a_g, b_g, where=a_g >= b_g, color='#4caf50', alpha=0.14, lw=0, interpolate=True, zorder=2)
ax.fill_between(grid, a_g, b_g, where=a_g < b_g, color='#ff5252', alpha=0.18, lw=0, interpolate=True, zorder=2)
ax.plot(a_d, a_v, color='#66a35c', lw=0.9, zorder=2.2)
ax.plot(b_d, b_v, color='#f4605c', lw=0.9, zorder=2.2)

# bollinger bands
grid2 = np.arange(5.8, 331.5, 0.25)
u_d, u_v = xy(bb_upper)
l_d, l_v = xy(bb_lower)
ax.fill_between(grid2, np.interp(grid2, u_d, u_v), np.interp(grid2, l_d, l_v), color='#1f7a8c', alpha=0.06, lw=0, zorder=2)
ax.plot(u_d, u_v, color='#1d5c78', lw=1.6, zorder=5)
ax.plot(l_d, l_v, color='#1d5c78', lw=1.6, zorder=5)

# falling triangle and abcd pattern
ax.add_patch(Polygon(triangle, closed=True, fc='#ff9800', ec='#ffb366', alpha=0.16, lw=0, zorder=3))
tx, ty = xy(triangle + triangle[:1])
ax.plot(tx, ty, color='#ffb366', lw=1.0, zorder=3)
px, py = xy(pattern_thin)
ax.plot(px, py, color='#ffb366', lw=0.9, zorder=3)
ux, uy = xy(upper_parallel)
ax.plot(ux, uy, color='#ffb366', lw=0.9, zorder=3)

# candles
up = closes >= opens
colors = np.where(up, '#26a69a', '#ef5350')
ax.vlines(days, lows, highs, colors=colors, lw=0.9, zorder=4)
ax.bar(days, np.maximum(np.abs(closes-opens), 12), bottom=np.minimum(opens, closes), width=0.78, color=colors, lw=0, zorder=5.8)

# thin lines
ax.plot(days-26, closes, color='#7ea354', lw=0.9, alpha=0.85, zorder=4.5)
zx, zy = xy(zigzag)
ax.plot(zx, zy, color='#6f8f2c', lw=0.9, zorder=4.5)
kx, ky = xy(kijun)
ax.plot(kx, ky, color='#b3605c', lw=0.9, zorder=4.5)
lx, ly = xy(light_blue)
ax.plot(lx, ly, color='#64b5f6', lw=0.9, zorder=4.6)
sx, sy = xy(sar_dots)
ax.plot(sx, sy, ls='none', marker='+', ms=3.2, mew=0.8, color='#2c6f93', zorder=4.6)

# moving averages
for line, col, lw, z in [(violet_ma, '#4b4bea', 1.6, 5.5), (olive_ma, '#4f8f43', 1.6, 5.5), (salmon_ma, '#ef5350', 1.6, 5.5),
                         (darkred_ma, '#c21f1f', 1.6, 5.5), (blue_top, '#0000e6', 1.8, 5.6), (blue_mid, '#0000e6', 1.8, 5.6),
                         (blue_low, '#0000e6', 1.8, 5.6), (green_ma, '#00e600', 1.8, 5.6), (yellow_ma, '#ffee00', 1.8, 5.6),
                         (fast_red, '#ff0000', 1.6, 5.9)]:
    lx, ly = xy(line)
    ax.plot(lx, ly, color=col, lw=lw, zorder=z)

# trend lines
for p0, p1 in red_lines:
    ax.plot([p0[0], p1[0]], [p0[1], p1[1]], color='#ff0000', lw=1.8, zorder=6)
for p0, p1 in green_lines:
    ax.plot([p0[0], p1[0]], [p0[1], p1[1]], color='#00e600', lw=1.8, zorder=6)
ax.plot([orange_line[0][0], orange_line[1][0]], [orange_line[0][1], orange_line[1][1]], color='#ff9800', lw=1.8, zorder=6)
ax.axhline(4107, color='#26a69a', lw=1, alpha=0.35, zorder=3)

# extreme flags
for d, v, txt, side in flags:
    ax.plot([d], [v + side*45], marker='^' if side < 0 else 'v', ms=6, color='#dfe9bd', mec='#a9c088', mew=0.7, zorder=6.5)
    ax.annotate(txt, xy=(d, v), xytext=(0, side*9), textcoords='offset points', ha='center', va='center',
                fontsize=7.1, color='#222222', zorder=7,
                bbox=dict(boxstyle='square,pad=0.16', fc='#e9f1c9', ec='#a9c088', lw=0.8))

# price zones lie above everything drawn so far
for lo, hi in bands:
    ax.axhspan(lo, hi, fc='#bad9fb', alpha=0.45, lw=0, zorder=8)
    ax.hlines([lo, hi], 4.74, 375.4, color='#9b9ea3', lw=1.3, zorder=8.1)

# measure box on the right
ax.add_patch(Rectangle((364.3, 3663), 9.9, 5886-3663, fc='#2196f3', alpha=0.14, lw=0, zorder=8.2))
ax.plot([369.1, 369.1], [5886, 3690], color='#8c8f94', lw=1, ls=(0, (2, 2)), zorder=8.3)
ax.plot([368.6, 369.1, 369.6], [3740, 3680, 3740], color='#8c8f94', lw=0.8, zorder=8.3)

# horizontal levels
ax.plot([54.8, 375.4], [9270, 9270], color='#ff0000', lw=1.8, zorder=9)
ax.plot([4.74, 375.4], [3933, 3933], color='#ff0000', lw=1.8, zorder=9)
ax.plot([4.74, 375.4], [5428, 5428], color='#00e600', lw=1.8, zorder=9)
ax.plot([327.4, 375.4], [3663, 3663], color='#00e600', lw=1.8, zorder=9)

# dashed projections
for shaft in green_arrow_shafts + green_wings:
    lx, ly = xy(shaft)
    ax.plot(lx, ly, color='#00e600', lw=1.8, ls=(0, (5, 4)), zorder=9)
for shaft in red_arrow_shafts + red_wings:
    lx, ly = xy(shaft)
    ax.plot(lx, ly, color='#ff0000', lw=1.8, ls=(0, (5, 4)), zorder=9)

# pattern letters
for name, d, v in pattern_letters:
    ax.text(d, v, name, ha='center', va='center', color='white', fontsize=10, zorder=10,
            bbox=dict(boxstyle='round,pad=0.28', fc='#ff9800', ec='#ff9800'))

# callouts
ax.text(318.3, 7280, "Fallendes Dreieck.", ha='center', va='center', color='white', fontsize=19, zorder=11,
        bbox=dict(boxstyle='round,pad=0.42,rounding_size=0.4', fc='#ff5a5f', ec='#ff1a1a', alpha=0.78, lw=1.3))
ax.text(374.4, 3365, "-2219.04217672 (-37.79%)", ha='right', va='center', color='white', fontsize=9.6, zorder=11,
        bbox=dict(boxstyle='round,pad=0.4,rounding_size=0.3', fc='#6a8fc4', ec='none'))
ax.text(5.1, 10915, "03107", ha='left', va='center', color='white', fontsize=9.6, zorder=11, clip_on=True,
        bbox=dict(boxstyle='round,pad=0.42', fc='#6a8fc4', ec='none'))

# axes
ax.grid(True, color='#eef5f7', lw=1, zorder=0)
ax.set_axisbelow(True)
ax.yaxis.tick_right()
ax.set_yticks(y_ticks)
ax.set_yticklabels(["%.8f" % t for t in y_ticks], fontsize=7.8, color='#4d4d4d')
ax.set_xticks(x_ticks)
ax.set_xticklabels(x_labels, fontsize=8.8, color='#4d4d4d')
ax.tick_params(axis='y', length=4, color='#555555', pad=2.5)
ax.tick_params(axis='x', length=4, color='#555555', pad=5)
for side in ['left', 'top']:
    ax.spines[side].set_color('#444444')
for side in ['right', 'bottom']:
    ax.spines[side].set_color('#555555')
    ax.spines[side].set_linewidth(1.4)

ax.text(1.004, 4107, "4106.89632998", transform=ax.get_yaxis_transform(), ha='left', va='center', color='white',
        fontsize=7.8, zorder=12, clip_on=False,
        bbox=dict(boxstyle='square,pad=0.38', fc='#26a69a', ec='none'))

# outer frame
fig.add_artist(Rectangle((6/W, 1-1427/H), (2283-6)/W, (1427-43)/H, fc='none', ec='#555555', lw=1.5, transform=fig.transFigure))

# header rows
header_top = [(6, "TradingschuleKryptologen", '#42a5f5', 'normal', 9.5), (166, "published on TradingView.com, November 28, 2018 08:13 UTC", '#222222', 'normal', 9.1)]
header_row = [(6, "BITTREX:BTCUSDT, 1D", '#111111', 'bold', 8.2), (141, "4106.89632998", '#222222', 'normal', 9), (232, "▲", '#10b010', 'normal', 8),
              (246, "+219.78541565 (+5.65%)", '#222222', 'normal', 9), (392, "O:", '#111111', 'bold', 9), (406, "3879.91639371", '#10b010', 'normal', 9),
              (498, "H:", '#111111', 'bold', 9), (511, "4149.98999999", '#10b010', 'normal', 9), (604, "L:", '#111111', 'bold', 9),
              (615, "3852.77265251", '#10b010', 'normal', 9), (708, "C:", '#111111', 'bold', 9), (719, "4106.89632998", '#10b010', 'normal', 9)]
for x, txt, col, wgt, fs in header_top:
    fig.text(x/W, 1-12/H, txt, color=col, weight=wgt, fontsize=fs, va='center')
for x, txt, col, wgt, fs in header_row:
    fig.text(x/W, 1-30/H, txt, color=col, weight=wgt, fontsize=fs, va='center')

# footer with a small logo
fig.text(6/W, 1-1447/H, "Created with", color='#222222', fontsize=9.6, va='center')
fig.text(118/W, 1-1447/H, "TradingView", color='#42a5f5', fontsize=9.6, va='center')
logo = [(88, 1452), (92, 1444), (97, 1444), (101, 1438), (106, 1441), (109, 1447), (111, 1452)]
fig.add_artist(Polygon([(x/W, 1-y/H) for x, y in logo], closed=True, fc='#5bb3ef', ec='#5bb3ef', lw=1, transform=fig.transFigure))
zig = [(91, 1451), (97, 1445), (101, 1451), (107, 1444)]
fig.add_artist(plt.Line2D([x/W for x, y in zig], [1-y/H for x, y in zig], color='white', lw=1.4, transform=fig.transFigure))

fig.savefig("out.png", dpi=100)
